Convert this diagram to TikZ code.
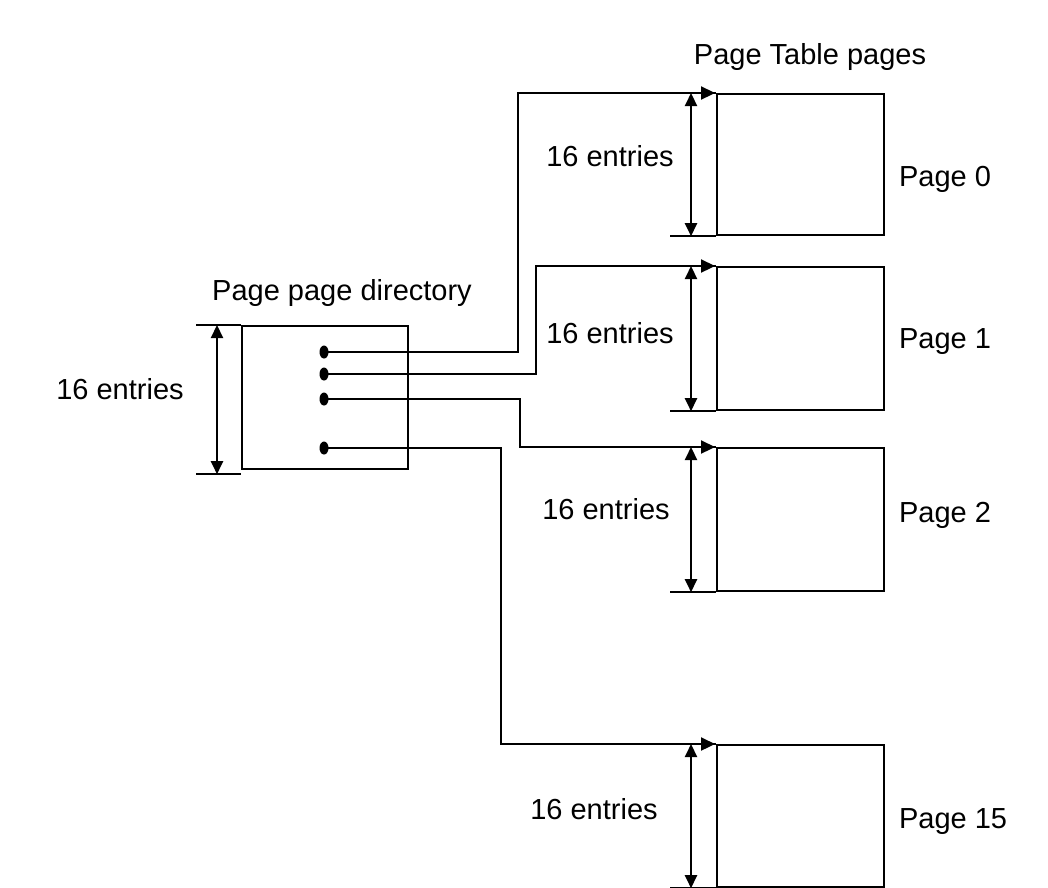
\documentclass[tikz,border=0pt]{standalone}
\usepackage{fontspec}
\setmainfont{Liberation Sans}
\usetikzlibrary{arrows.meta,shapes.geometric}
\begin{document}
\begin{tikzpicture}[x=1pt,y=-1pt,line width=2.2pt,
  box/.style={draw,rectangle,inner sep=0pt,line width=2.2pt},
  pagebox/.style={box,minimum width=167pt,minimum height=#1pt},
  dot/.style={ellipse,fill=black,draw=none,minimum width=9pt,minimum height=13pt,inner sep=0pt},
  conn/.style={-{Triangle[length=14pt,width=13pt]}},
  dimarrow/.style={{Triangle[length=13pt,width=12pt]}-{Triangle[length=13pt,width=12pt]}},
  lbl/.style={font=\fontsize{29}{34}\selectfont,inner sep=0pt,anchor=base}]
\useasboundingbox (0,0) rectangle (1048,887);
\fill[white] (0,0) rectangle (1048,887);
% directory
\node[box,minimum width=166pt,minimum height=143pt,anchor=north west] (dir) at (241,325) {};
\node[dot] (d0) at (324,352) {};
\node[dot] (d1) at (324,374) {};
\node[dot] (d2) at (324,399) {};
\node[dot] (d15) at (324,448) {};
% pages
\node[pagebox=141,anchor=north west] (p0) at (716,93) {};
\node[pagebox=143,anchor=north west] (p1) at (716,266) {};
\node[pagebox=143,anchor=north west] (p2) at (716,447) {};
\node[pagebox=142,anchor=north west] (p15) at (716,744) {};
% labels
\node[lbl] (tptp) at (810,64) {Page Table pages};
\node[lbl] (tppd) at (342,300) {Page page directory};
\node[lbl] (tdir) at (120,399) {16 entries};
\node[lbl] (e0) at (610,166) {16 entries};
\node[lbl] (e1) at (610,343) {16 entries};
\node[lbl] (e2) at (606,519) {16 entries};
\node[lbl] (e15) at (594,819) {16 entries};
\node[lbl,anchor=base west] (n0) at (898,186) {Page 0};
\node[lbl,anchor=base west] (n1) at (898,348) {Page 1};
\node[lbl,anchor=base west] (n2) at (898,522) {Page 2};
\node[lbl,anchor=base west] (n15) at (898,828) {Page 15};
% directory dimension
\draw ([xshift=-45pt]dir.north west) -- (dir.north west);
\draw ([xshift=-45pt,yshift=-4pt]dir.south west) coordinate (dbl) -- ([yshift=-4pt]dir.south west);
\draw[dimarrow] ([xshift=-24pt]dir.north west) -- ([xshift=-24pt,yshift=-4pt]dir.south west);
% page dimensions
\foreach \p in {p0,p1,p2,p15}{
  \draw ([xshift=-36pt]\p.north west) -- (\p.north west);
  \draw ([xshift=-46pt]\p.south west) -- (\p.south west);
  \draw[dimarrow] ([xshift=-25pt]\p.north west) -- ([xshift=-25pt]\p.south west);
}
% connectors
\draw[conn] (d0.center) -- ++(194,0) |- ([xshift=-1pt]p0.north west);
\draw[conn] (d1.center) -- ++(212,0) |- ([xshift=-1pt]p1.north west);
\draw[conn] (d2.center) -- ++(196,0) |- ([xshift=-1pt]p2.north west);
\draw[conn] (d15.center) -- ++(177,0) |- ([xshift=-1pt]p15.north west);
\end{tikzpicture}
\end{document}
